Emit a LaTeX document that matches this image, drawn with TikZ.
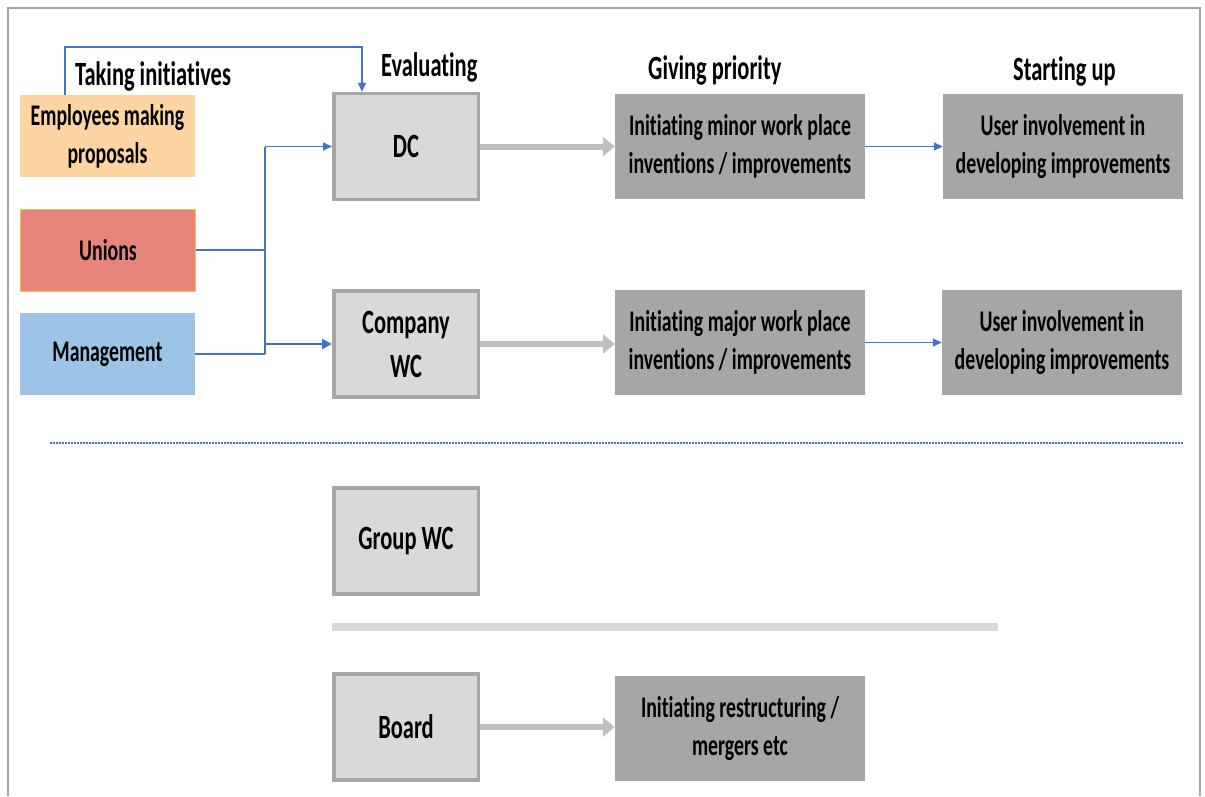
\documentclass[tikz,border=0pt]{standalone}
\usepackage{fontspec}
\setmainfont{Carlito}[FakeStretch=0.66, Ligatures=NoCommon]
\usetikzlibrary{arrows.meta}
\definecolor{frame}{HTML}{A6A6A6}
\definecolor{evalfill}{HTML}{D9D9D9}
\definecolor{evalline}{HTML}{A6A6A6}
\definecolor{stepfill}{HTML}{A6A6A6}
\definecolor{flow}{HTML}{BFBFBF}
\definecolor{link}{HTML}{4472C4}
\definecolor{orangefill}{HTML}{FCD5A2}
\definecolor{redfill}{HTML}{E6867A}
\definecolor{redline}{HTML}{F4C24C}
\definecolor{bluefill}{HTML}{9DC3E6}
\tikzset{
  txt/.style={font=\bfseries\fontsize{30}{38}\selectfont, align=center, inner sep=0pt},
  srcbox/.style={txt, rectangle, minimum width=175pt, minimum height=82pt},
  evalbox/.style={txt, rectangle, fill=evalfill, draw=evalline, line width=3.5pt,
    minimum width=144.5pt, minimum height=106pt, font=\bfseries\fontsize{34}{44}\selectfont},
  actbox/.style={txt, rectangle, fill=stepfill, minimum width=250pt, minimum height=105pt},
  userbox/.style={actbox, minimum width=240pt},
  head/.style={font=\bfseries\fontsize{34}{40}\selectfont, inner sep=0pt},
  bigflow/.style={flow, line width=6pt, -{Triangle[width=19pt,length=12pt]}},
  thin/.style={link, line width=1.5pt},
  thinarrow/.style={thin, -{Triangle[width=8pt,length=9pt]}},
}
\begin{document}
\begin{tikzpicture}[x=1pt,y=-1pt]
\useasboundingbox (0,0) rectangle (1205,796);
% outer frame, open at the bottom
\draw[frame, line width=2.5pt] (8,796) -- (8,8) -- (1200,8) -- (1200,796);

% column headings
\node[head, anchor=west] (h1) at (75,76) {Taking initiatives};
\node[head, anchor=west] (h2) at (381,67) {Evaluating};
\node[head, anchor=west] (h3) at (648,70) {Giving priority};
\node[head, anchor=west] (h4) at (1013,71) {Starting up};

% initiators
\node[srcbox, fill=orangefill] (emp) at (107.5,136) {Employees making\\proposals};
\node[srcbox, fill=redfill, draw=redline, line width=1pt] (uni) at (108,250) {Unions};
\node[srcbox, fill=bluefill] (man) at (107.5,354) {Management};

% evaluating bodies
\node[evalbox] (dc) at (406,146.5) {DC};
\node[evalbox] (cwc) at (406,344) {Company\\WC};
\node[evalbox] (gwc) at (406,541) {Group WC};
\node[evalbox] (board) at (406,727) {Board};

% priorities
\node[actbox] (minor) at (740,146.5) {Initiating minor work place\\inventions / improvements};
\node[actbox] (major) at (740,342.5) {Initiating major work place\\inventions / improvements};
\node[actbox] (restr) at (740,728.5) {Initiating restructuring /\\mergers etc};

% start-up
\node[userbox] (user1) at (1063,146.5) {User involvement in\\developing improvements};
\node[userbox] (user2) at (1062,342.5) {User involvement in\\developing improvements};

% employee proposals go straight to the DC
\draw[thinarrow] ([xshift=-42.5pt]emp.north) |- (230,47) -| ([xshift=-44pt]dc.north);

% unions and management feed both DC and company WC
\coordinate (j) at (265,0);
\draw[thin] (uni.east) -- (uni.east -| j);
\draw[thin] (man.east) -- (man.east -| j);
\draw[thin] (j |- dc.west) -- (j |- man.east);
\draw[thinarrow] (j |- dc.west) -- (dc.west);
\draw[link, line width=2.5pt, -{Triangle[width=10pt,length=10pt]}] (j |- cwc.west) -- (cwc.west);

% evaluation leads to priorities
\draw[bigflow] (dc.east) -- (dc.east -| minor.west);
\draw[bigflow] (cwc.east) -- (cwc.east -| major.west);
\draw[bigflow] (board.east) -- (board.east -| restr.west);

% priorities lead to start-up
\draw[thinarrow] (minor.east) -- (user1.west);
\draw[thinarrow] (major.east) -- (user2.west);

% dividers
\draw[link, line width=1.5pt, dash pattern=on 1.5pt off 1.5pt] (50,443) -- (1183,443);
\fill[evalfill] (332,623) rectangle (998,631);
\end{tikzpicture}
\end{document}
